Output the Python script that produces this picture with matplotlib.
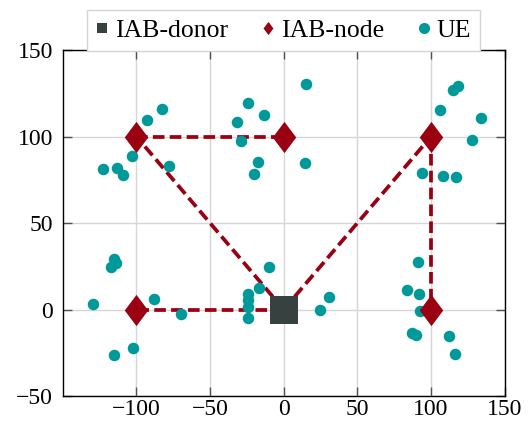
import matplotlib

matplotlib.use("Agg")
import matplotlib.pyplot as plt
from matplotlib.lines import Line2D
from matplotlib.path import Path

# topology: one donor in the middle, five IAB-nodes around it
donor_x = [0]
donor_y = [0]
node_x = [-100, 0, 100, -100, 100]
node_y = [100, 100, 100, 0, 0]

# backhaul links as (parent, child) coordinate pairs
links = [
    ((0, 0), (-100, 0)),
    ((0, 0), (-100, 100)),
    ((-100, 100), (0, 100)),
    ((0, 0), (100, 100)),
    ((100, 100), (100, 0)),
]

ue_x = [-93, -82.5, -103, -122.5, -113, -109, -78, -24, -32, -13.5, -29, -17.5, -20.5,
        15, 14.5, 106, 115, 118, 134, 128, 94, 108, 117,
        -115.5, -114, -117, -129.5, -88, -70, -102.5, -115.5, -10, -17, -24, -24, -24, -24,
        31, 24.5, 91, 83.5, 92, 92.5, 87, 89.5, 112, 116.5]
ue_y = [109.5, 116, 89, 81.5, 82, 78, 83, 119.5, 108.5, 112.5, 97.5, 85.5, 78.5,
        130.5, 84.5, 115.5, 127, 129, 110.5, 98, 79, 77, 76.5,
        29, 27, 24.5, 3, 6, -2.5, -22.5, -26.5, 24.5, 12.5, 9, 5.5, 1.5, -5,
        7, 0, 27.5, 11, 9, -1, -13.5, -15, -15.5, -25.5]

xticks = [-100, -50, 0, 50, 100, 150]
yticks = [-50, 0, 50, 100, 150]

C_DONOR = "#364140"
C_NODE = "#9a0012"
C_UE = "#00999a"
C_GRID = "#d6d6d6"
C_TICK = "#505050"

# pgfplots-style diamond, taller than wide
diamond = Path([(0, 1), (0.75, 0), (0, -1), (-0.75, 0), (0, 1)],
               [Path.MOVETO, Path.LINETO, Path.LINETO, Path.LINETO, Path.CLOSEPOLY])

plt.rcParams["font.family"] = ["Liberation Serif", "DejaVu Serif"]
plt.rcParams["font.size"] = 17

fig = plt.figure(figsize=(5.28, 4.26), dpi=100)
ax = fig.add_axes([0.1188, 0.0704, 0.8371, 0.8122])

for (x0, y0), (x1, y1) in links:
    ax.plot([x0, x1], [y0, y1], color=C_NODE, lw=2.7, dashes=(3.1, 1.4), zorder=2)

ax.plot(ue_x, ue_y, "o", color=C_UE, ms=8.3, mew=0, zorder=3)
ax.plot(node_x, node_y, marker=diamond, ls="none", color=C_NODE, ms=22.5, mew=0, zorder=4)
ax.plot(donor_x, donor_y, "s", color=C_DONOR, ms=19.5, mew=0, zorder=5)

ax.set_xlim(-150, 150)
ax.set_ylim(-50, 150)
ax.set_xticks(xticks)
ax.set_yticks(yticks)
ax.set_xticklabels([f"{t}".replace("-", "\u2212") for t in xticks])
ax.set_yticklabels([f"{t}".replace("-", "\u2212") for t in yticks])
ax.grid(True, color=C_GRID, lw=1.0, zorder=0)
ax.set_axisbelow(True)
ax.tick_params(direction="in", length=6.5, width=1, color=C_TICK, top=True, right=True,
               labelsize=17)
ax.tick_params(axis="x", pad=2.5)
ax.tick_params(axis="y", pad=7)
for sp in ax.spines.values():
    sp.set_color("black")
    sp.set_linewidth(1.0)

handles = [
    Line2D([], [], ls="none", marker="s", color=C_DONOR, ms=7.5, mew=0),
    Line2D([], [], ls="none", marker=diamond, color=C_NODE, ms=9.5, mew=0),
    Line2D([], [], ls="none", marker="o", color=C_UE, ms=8, mew=0),
]
leg = ax.legend(handles, ["IAB-donor", "IAB-node", "UE"], loc="upper center",
                bbox_to_anchor=(0.5, 1.116), borderaxespad=0, ncol=3,
                fancybox=False, framealpha=1, edgecolor="#d4d4d4",
                handlelength=0.5, handletextpad=0.25, columnspacing=1.3,
                borderpad=0.35, fontsize=18.5)
leg.get_frame().set_linewidth(1.0)
leg.set_zorder(10)

fig.savefig("out.png", dpi=100)
